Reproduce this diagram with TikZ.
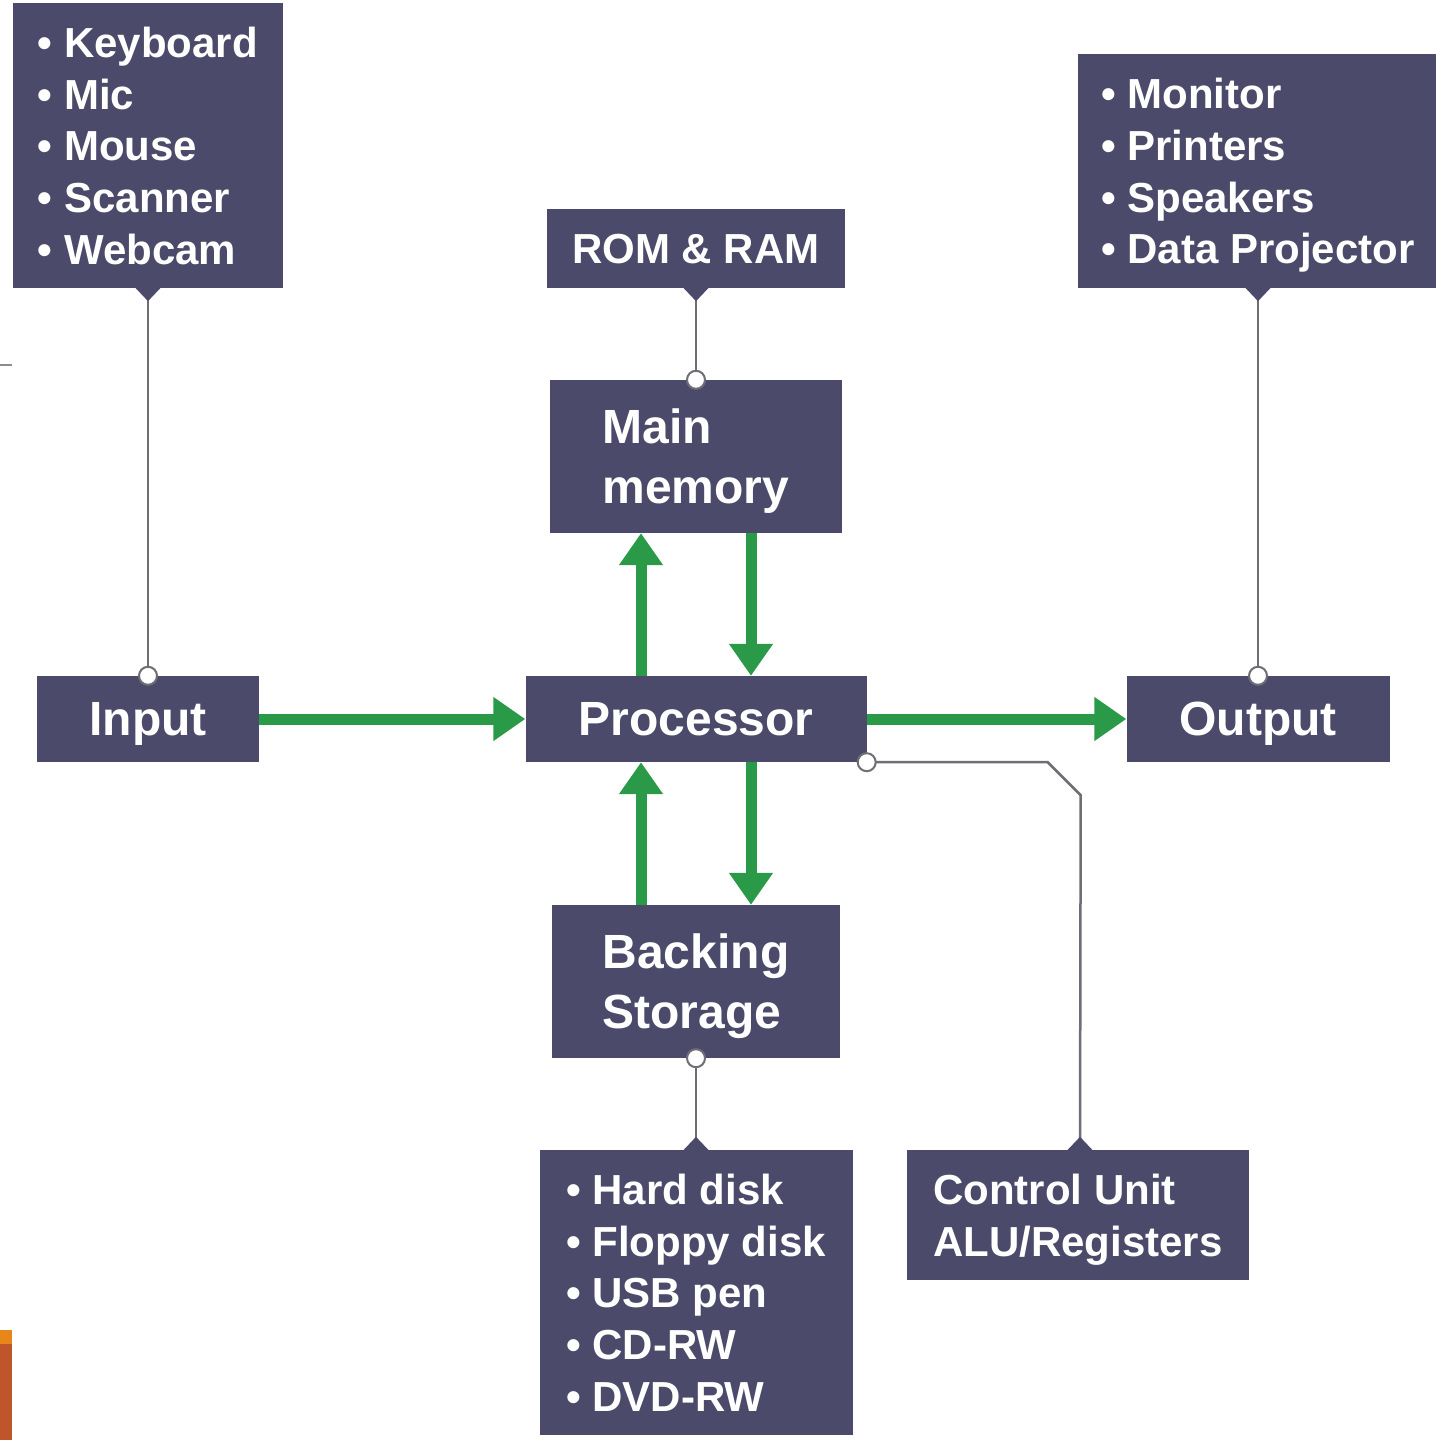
\documentclass[tikz,border=0pt]{standalone}
\usepackage{fontspec}
\setmainfont{Liberation Sans}
\usetikzlibrary{arrows.meta, positioning}
\definecolor{boxc}{RGB}{75,74,107}
\definecolor{flowc}{RGB}{42,154,72}
\definecolor{linkc}{RGB}{110,110,116}
\tikzset{%
	every block/.style={
		fill=boxc,
		text=white,
		inner sep=0pt,
		text depth=0pt,
		align=left
	},
	big block/.style={
		every block,
		font=\bfseries\fontsize{48}{60}\selectfont
	},
	list block/.style={
		every block,
		font=\bfseries\fontsize{42}{51.7}\selectfont
	},
	flow/.style={
		draw=flowc,
		line width=11pt,
		-{Triangle[length=32pt, width=42pt]}
	},
	link/.style={
		draw=linkc,
		line width=2.5pt
	},
	dot/.style={
		circle,
		draw=linkc,
		line width=2pt,
		fill=white,
		inner sep=0pt,
		minimum size=18pt
	},
}

\begin{document}
\begin{tikzpicture}[x=1pt, y=-1pt]
	\useasboundingbox[fill=white] (0,0) rectangle (1435,1440);
	
	% top row: device lists and memory types
	\node[list block, minimum width=270, minimum height=285] (inlist) at (148,145.5) {• Keyboard\\• Mic\\• Mouse\\• Scanner\\• Webcam};
	\node[list block, minimum width=298, minimum height=79] (romram) at (696,248.5) {ROM \& RAM};
	\node[list block, minimum width=361, minimum height=234] (outlist) at (1258,171) {• Monitor\\• Printers\\• Speakers\\• Data Projector};
	
	% middle column
	\node[big block, minimum width=292, minimum height=153] (memory) at (696,456.5) {Main\\memory};
	\node[big block, minimum width=341, minimum height=86] (proc) at (696,719) {Processor};
	\node[big block, minimum width=288, minimum height=153] (backing) at (696,981.5) {Backing\\Storage};
	
	% input and output
	\node[big block, minimum width=222, minimum height=86] (input) at (148,719) {Input};
	\node[big block, minimum width=263, minimum height=86] (output) at (1258,719) {Output};
	
	% bottom row
	\node[list block, minimum width=313, minimum height=285] (storelist) at (696,1292.5) {• Hard disk\\• Floppy disk\\• USB pen\\• CD-RW\\• DVD-RW};
	\node[list block, minimum width=342, minimum height=130, font=\bfseries\fontsize{42}{52}\selectfont] (ctrl) at (1078,1215) {Control Unit\\ALU/Registers};
	
	% green data flow
	\draw[flow] (input.east) -- (proc.west);
	\draw[flow] (proc.east) -- (output.west);
	\draw[flow] ([xshift=-55pt]proc.north) -- ([xshift=-55pt]memory.south);
	\draw[flow] ([xshift=55pt]memory.south) -- ([xshift=55pt]proc.north);
	\draw[flow] ([xshift=-55pt]backing.north) -- ([xshift=-55pt]proc.south);
	\draw[flow] ([xshift=55pt]proc.south) -- ([xshift=55pt]backing.north);
	
	% grey links with notch and dot
	\draw[link, {Triangle[reversed, length=13pt, width=24pt, color=boxc]}-] (inlist.south) -- (input.north);
	\draw[link, {Triangle[reversed, length=13pt, width=24pt, color=boxc]}-] (romram.south) -- (memory.north);
	\draw[link, {Triangle[reversed, length=13pt, width=24pt, color=boxc]}-] (outlist.south) -- (output.north);
	\draw[link, -{Triangle[reversed, length=13pt, width=24pt, color=boxc]}] (backing.south) -- (storelist.north);
	\draw[link, -{Triangle[reversed, length=13pt, width=24pt, color=boxc]}] (proc.south east) -- ++(181,0) -- ++(33,33) -- ([xshift=2pt]ctrl.north);
	\node[dot] (d1) at (input.north) {};
	\node[dot] (d2) at (memory.north) {};
	\node[dot] (d3) at (output.north) {};
	\node[dot] (d4) at (backing.south) {};
	\node[dot] (d5) at (proc.south east) {};
	
	% slide edge marks
	\draw[draw=linkc!80, line width=2pt] (0,365) -- (12,365);
	\fill[fill={rgb,255:red,232;green,134;blue,26}] (0,1330) rectangle (12,1344);
	\fill[fill={rgb,255:red,190;green,85;blue,43}] (0,1344) rectangle (12,1440);
\end{tikzpicture}
\end{document}
